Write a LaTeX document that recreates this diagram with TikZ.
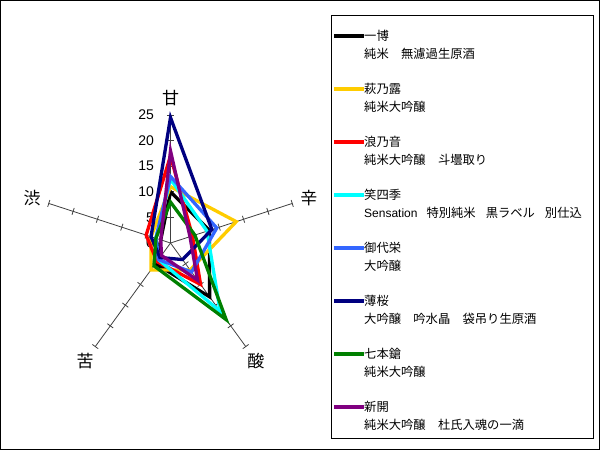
\documentclass[tikz,border=0pt]{standalone}
\usepackage{fontspec}
\setmainfont{Noto Sans CJK JP}
\newfontfamily\latinfont{Liberation Sans}
\usetikzlibrary{positioning,calc}
\definecolor{ichihaku}{RGB}{0,0,0}
\definecolor{hagi}{RGB}{255,204,0}
\definecolor{nami}{RGB}{255,0,0}
\definecolor{warai}{RGB}{0,255,255}
\definecolor{miyo}{RGB}{51,102,255}
\definecolor{usu}{RGB}{0,0,128}
\definecolor{shichi}{RGB}{0,128,0}
\definecolor{shinkai}{RGB}{128,0,128}

\begin{document}
\begin{tikzpicture}[x=1pt,y=-1pt,
    axisline/.style={draw=black!75, line width=0.8pt},
    axislabel/.style={font=\fontsize{17}{17}\selectfont, inner sep=0pt},
    scalelabel/.style={font=\latinfont\fontsize{14}{14}\selectfont, anchor=east, inner sep=0pt},
    series/.style={line width=3.3pt},
    keyline/.style={line width=4pt},
    keytext/.style={font=\fontsize{12.3}{13}\selectfont, anchor=west, inner sep=0pt}]
    \useasboundingbox (0,0) rectangle (600,450);
    \draw[line width=1pt] (0.5,0.5) rectangle (599.5,449.5);

    % Radar
    \begin{scope}[shift={(170.5pt,-243pt)}, x=5.12pt, y=5.12pt]
        \foreach \a/\lbl in {90/甘, 18/辛, -54/酸, -126/苦, 162/渋} {
            \draw[axisline] (0,0) -- (\a:25);
            \foreach \r in {5,10,...,25}
                \draw[axisline] ($(\a:\r)+(\a+90:0.7)$) -- ($(\a:\r)+(\a-90:0.7)$);
            \node[axislabel] (lbl\a) at (\a:28.4) {\lbl};
        }
        \foreach \v in {0,5,...,25}
            \node[scalelabel] (num\v) at (-3.2,\v) {\v};

        % Series
        \foreach \c/\A/\B/\C/\D/\E in {ichihaku/10/8/13/5/2, hagi/11/13.5/6.5/6.5/4,
                nami/17/4.5/10/4.5/5, warai/12.5/7.5/16.5/4/3, miyo/13/9.5/7/4/3,
                usu/24.5/8.5/4/3.5/4, shichi/8/5/18.5/5.5/3, shinkai/18/4/9/3/2}
            \draw[series, \c] (90:\A) -- (18:\B) -- (-54:\C) -- (-126:\D) -- (162:\E) -- cycle;
    \end{scope}

    % Legend
    \draw[line width=1pt] (331,15) rectangle (593,438);
    \foreach \i/\c/\nm/\sub in {0/ichihaku/一博/純米　無濾過生原酒,
            1/hagi/萩乃露/純米大吟醸,
            2/nami/浪乃音/純米大吟醸　斗壜取り,
            3/warai/笑四季/{{\latinfont\fontsize{12}{13}\selectfont Sensation}\hspace{9pt}特別純米\hspace{10pt}黒ラベル\hspace{10pt}別仕込},
            4/miyo/御代栄/大吟醸,
            5/usu/薄桜/大吟醸　吟水晶　袋吊り生原酒,
            6/shichi/七本鎗/純米大吟醸,
            7/shinkai/新開/純米大吟醸　杜氏入魂の一滴} {
        \node[keytext] (name\i) at (364,35.5+53.1*\i) {\nm};
        \node[keytext] (sub\i) at (364,53.5+53.1*\i) {\sub};
        \draw[keyline, \c] (334,35.5+53.1*\i) -- (name\i.west);
    }
\end{tikzpicture}
\end{document}
